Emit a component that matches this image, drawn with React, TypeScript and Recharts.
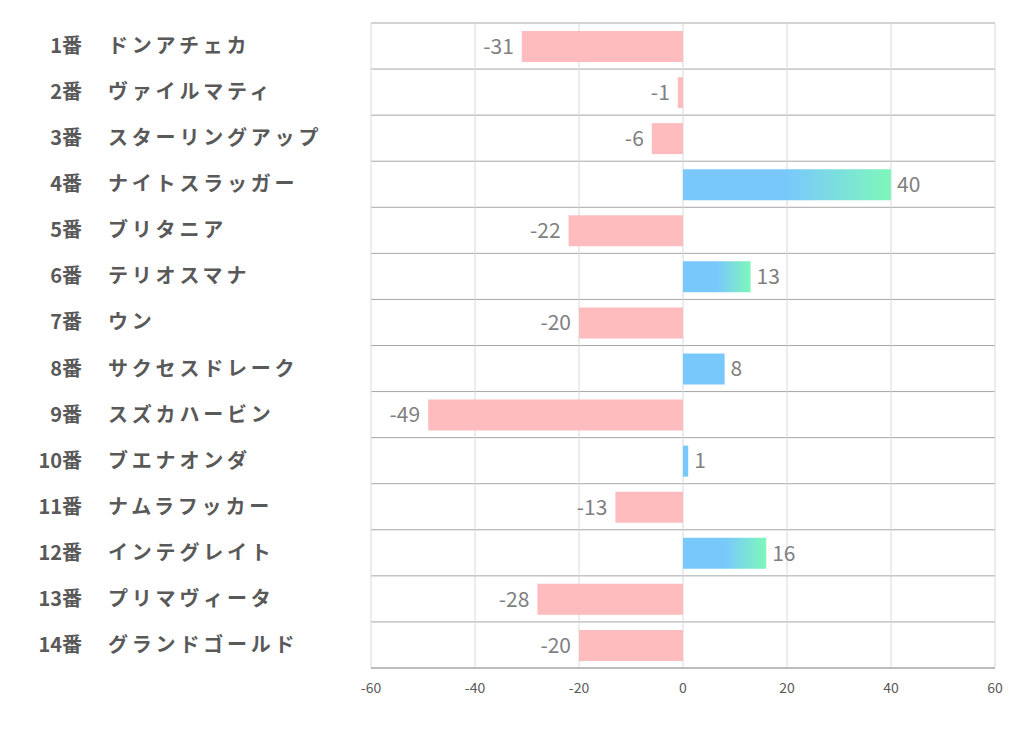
import React from "react";
import {
  BarChart,
  Bar,
  XAxis,
  YAxis,
  CartesianGrid,
  Cell,
  LabelList,
} from "recharts";

const NUMBERS = ["1番", "2番", "3番", "4番", "5番", "6番", "7番", "8番", "9番", "10番", "11番", "12番", "13番", "14番"];
const NAMES = [
  "ドンアチェカ",
  "ヴァイルマティ",
  "スターリングアップ",
  "ナイトスラッガー",
  "ブリタニア",
  "テリオスマナ",
  "ウン",
  "サクセスドレーク",
  "スズカハービン",
  "ブエナオンダ",
  "ナムラフッカー",
  "インテグレイト",
  "プリマヴィータ",
  "グランドゴールド",
];
const VALUES = [-31, -1, -6, 40, -22, 13, -20, 8, -49, 1, -13, 16, -28, -20];
const X_TICKS = [-60, -40, -20, 0, 20, 40, 60];

const PINK = "#ffbcbe";
const BLUE = "#79c8fc";
const FONT = '"Noto Sans CJK JP", "Noto Sans", sans-serif';

const data = VALUES.map((v, i) => ({ label: `${NUMBERS[i]}|${NAMES[i]}`, value: v }));

const HorseTick = (props: any) => {
  const { y, payload } = props;
  const [num, name] = String(payload.value).split("|");
  return (
    <g>
      <text x={82} y={y} dy="0.35em" textAnchor="end" fill="#595959" fontSize={20} fontWeight="bold" fontFamily={FONT}>
        {num}
      </text>
      <text
        x={108}
        y={y}
        dy="0.35em"
        textAnchor="start"
        fill="#595959"
        fontSize={20}
        fontWeight="bold"
        fontFamily={FONT}
        letterSpacing={3.8}
      >
        {name}
      </text>
    </g>
  );
};

const ValueLabel = (props: any) => {
  const { x, y, width, height, value } = props;
  const left = Math.min(x, x + width);
  const right = Math.max(x, x + width);
  const neg = value < 0;
  return (
    <text
      x={neg ? left - 8 : right + 6}
      y={y + height / 2}
      dy="0.35em"
      textAnchor={neg ? "end" : "start"}
      fill="#7f7f7f"
      fontSize={21}
      fontFamily={FONT}
    >
      {value}
    </text>
  );
};

export default function App() {
  return (
    <div style={{ position: "absolute", left: 0, top: 0, background: "#fff" }}>
      <BarChart
        width={1022}
        height={730}
        data={data}
        layout="vertical"
        margin={{ top: 23, right: 27, bottom: 22, left: 0 }}
      >
        <defs>
          <linearGradient id="posGrad" x1="0" y1="0" x2="1" y2="0">
            <stop offset="0%" stopColor={BLUE} />
            <stop offset="50%" stopColor={BLUE} />
            <stop offset="100%" stopColor="#7ef7bb" />
          </linearGradient>
        </defs>
        <CartesianGrid
          vertical={false}
          stroke="#a6a6a6"
          horizontalCoordinatesGenerator={({ offset }: any) =>
            Array.from({ length: 15 }, (_, i) => offset.top + (i * offset.height) / 14)
          }
        />
        <CartesianGrid horizontal={false} stroke="#d9d9d9" />
        <XAxis
          type="number"
          domain={[-60, 60]}
          ticks={X_TICKS}
          axisLine={{ stroke: "#a6a6a6" }}
          tickLine={false}
          tickMargin={9}
          height={40}
          tick={{ fill: "#595959", fontSize: 14, fontFamily: FONT }}
        />
        <YAxis
          type="category"
          dataKey="label"
          width={371}
          axisLine={false}
          tickLine={false}
          tick={<HorseTick />}
          interval={0}
        />
        <Bar dataKey="value" barSize={31} isAnimationActive={false}>
          {data.map((d, i) => (
            <Cell key={i} fill={d.value < 0 ? PINK : d.value >= 10 ? "url(#posGrad)" : BLUE} />
          ))}
          <LabelList dataKey="value" content={<ValueLabel />} />
        </Bar>
      </BarChart>
    </div>
  );
}
